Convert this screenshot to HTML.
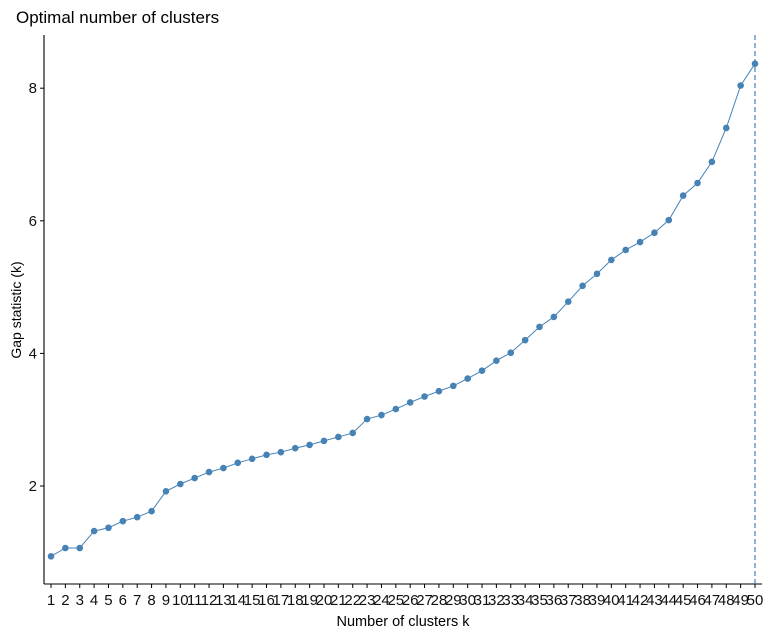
<!DOCTYPE html>
<html><head><meta charset="utf-8"><style>
body{margin:0;background:#fff;font-family:"Liberation Sans",Arial,sans-serif}
svg text{font-family:"Liberation Sans",Arial,sans-serif}
</style></head><body>
<svg id="chart" width="771" height="636" xmlns="http://www.w3.org/2000/svg">
<rect width="771" height="636" fill="#fff"/>
<text x="16" y="23" font-size="17" fill="#000">Optimal number of clusters</text>
<text transform="translate(21,310) rotate(-90)" font-size="14" text-anchor="middle">Gap statistic (k)</text>
<text x="403" y="626" font-size="14.5" text-anchor="middle">Number of clusters k</text>
<g id="axes"></g>
<g id="marks"></g>
</svg>
<script>
const categories=[1,2,3,4,5,6,7,8,9,10,11,12,13,14,15,16,17,18,19,20,21,22,23,24,25,26,27,28,29,30,31,32,33,34,35,36,37,38,39,40,41,42,43,44,45,46,47,48,49,50];
const gapValues=[0.94,1.065,1.065,1.32,1.37,1.47,1.53,1.62,1.92,2.03,2.12,2.21,2.27,2.35,2.41,2.47,2.51,2.57,2.62,2.68,2.74,2.80,3.01,3.07,3.16,3.26,3.35,3.43,3.51,3.62,3.74,3.89,4.01,4.20,4.40,4.55,4.78,5.02,5.20,5.41,5.56,5.68,5.82,6.01,6.38,6.57,6.89,7.40,8.04,8.37];
const yTicks=[2,4,6,8];
const optimalK=50;
const NS="http://www.w3.org/2000/svg";
const xS=k=>51+(k-1)*(755-51)/49;
const yS=v=>486-(v-2)*66.3;
function mk(tag,attrs,parent){const e=document.createElementNS(NS,tag);for(const a in attrs)e.setAttribute(a,attrs[a]);parent.appendChild(e);return e;}
const ax=document.getElementById('axes'),mg=document.getElementById('marks');
let l=mk('line',{x1:44,y1:35,x2:44,y2:584,stroke:'#000','stroke-width':1.1},ax);


l=mk('line',{x1:44,y1:584,x2:762,y2:584,stroke:'#000','stroke-width':1.1},ax);


yTicks.forEach(v=>{
 const t=mk('line',{x1:40,x2:44,y1:yS(v),y2:yS(v),stroke:'#000'},ax);
 
 
 const tx=mk('text',{x:37,y:yS(v)+5,'font-size':15,'text-anchor':'end',fill:'#111'},ax);
 tx.textContent=v;
 
 
});
categories.forEach(k=>{
 const t=mk('line',{x1:xS(k),x2:xS(k),y1:584,y2:588,stroke:'#000'},ax);
 
 
 const tx=mk('text',{x:xS(k),y:605,'font-size':15,'text-anchor':'middle',fill:'#111'},ax);
 tx.textContent=k;
 
 
});
const vl=mk('line',{x1:xS(optimalK),x2:xS(optimalK),y1:35,y2:584,stroke:'#2f78b8','stroke-dasharray':'5,3','stroke-width':1.1},mg);


const pl=mk('polyline',{points:categories.map((k,i)=>xS(k)+','+yS(gapValues[i])).join(' '),fill:'none',stroke:'#4682B4','stroke-width':1},mg);


categories.forEach((k,i)=>{
 const c=mk('circle',{cx:xS(k),cy:yS(gapValues[i]),r:3.3,fill:'#4682B4'},mg);
 
 
});
</script>
</body></html>
